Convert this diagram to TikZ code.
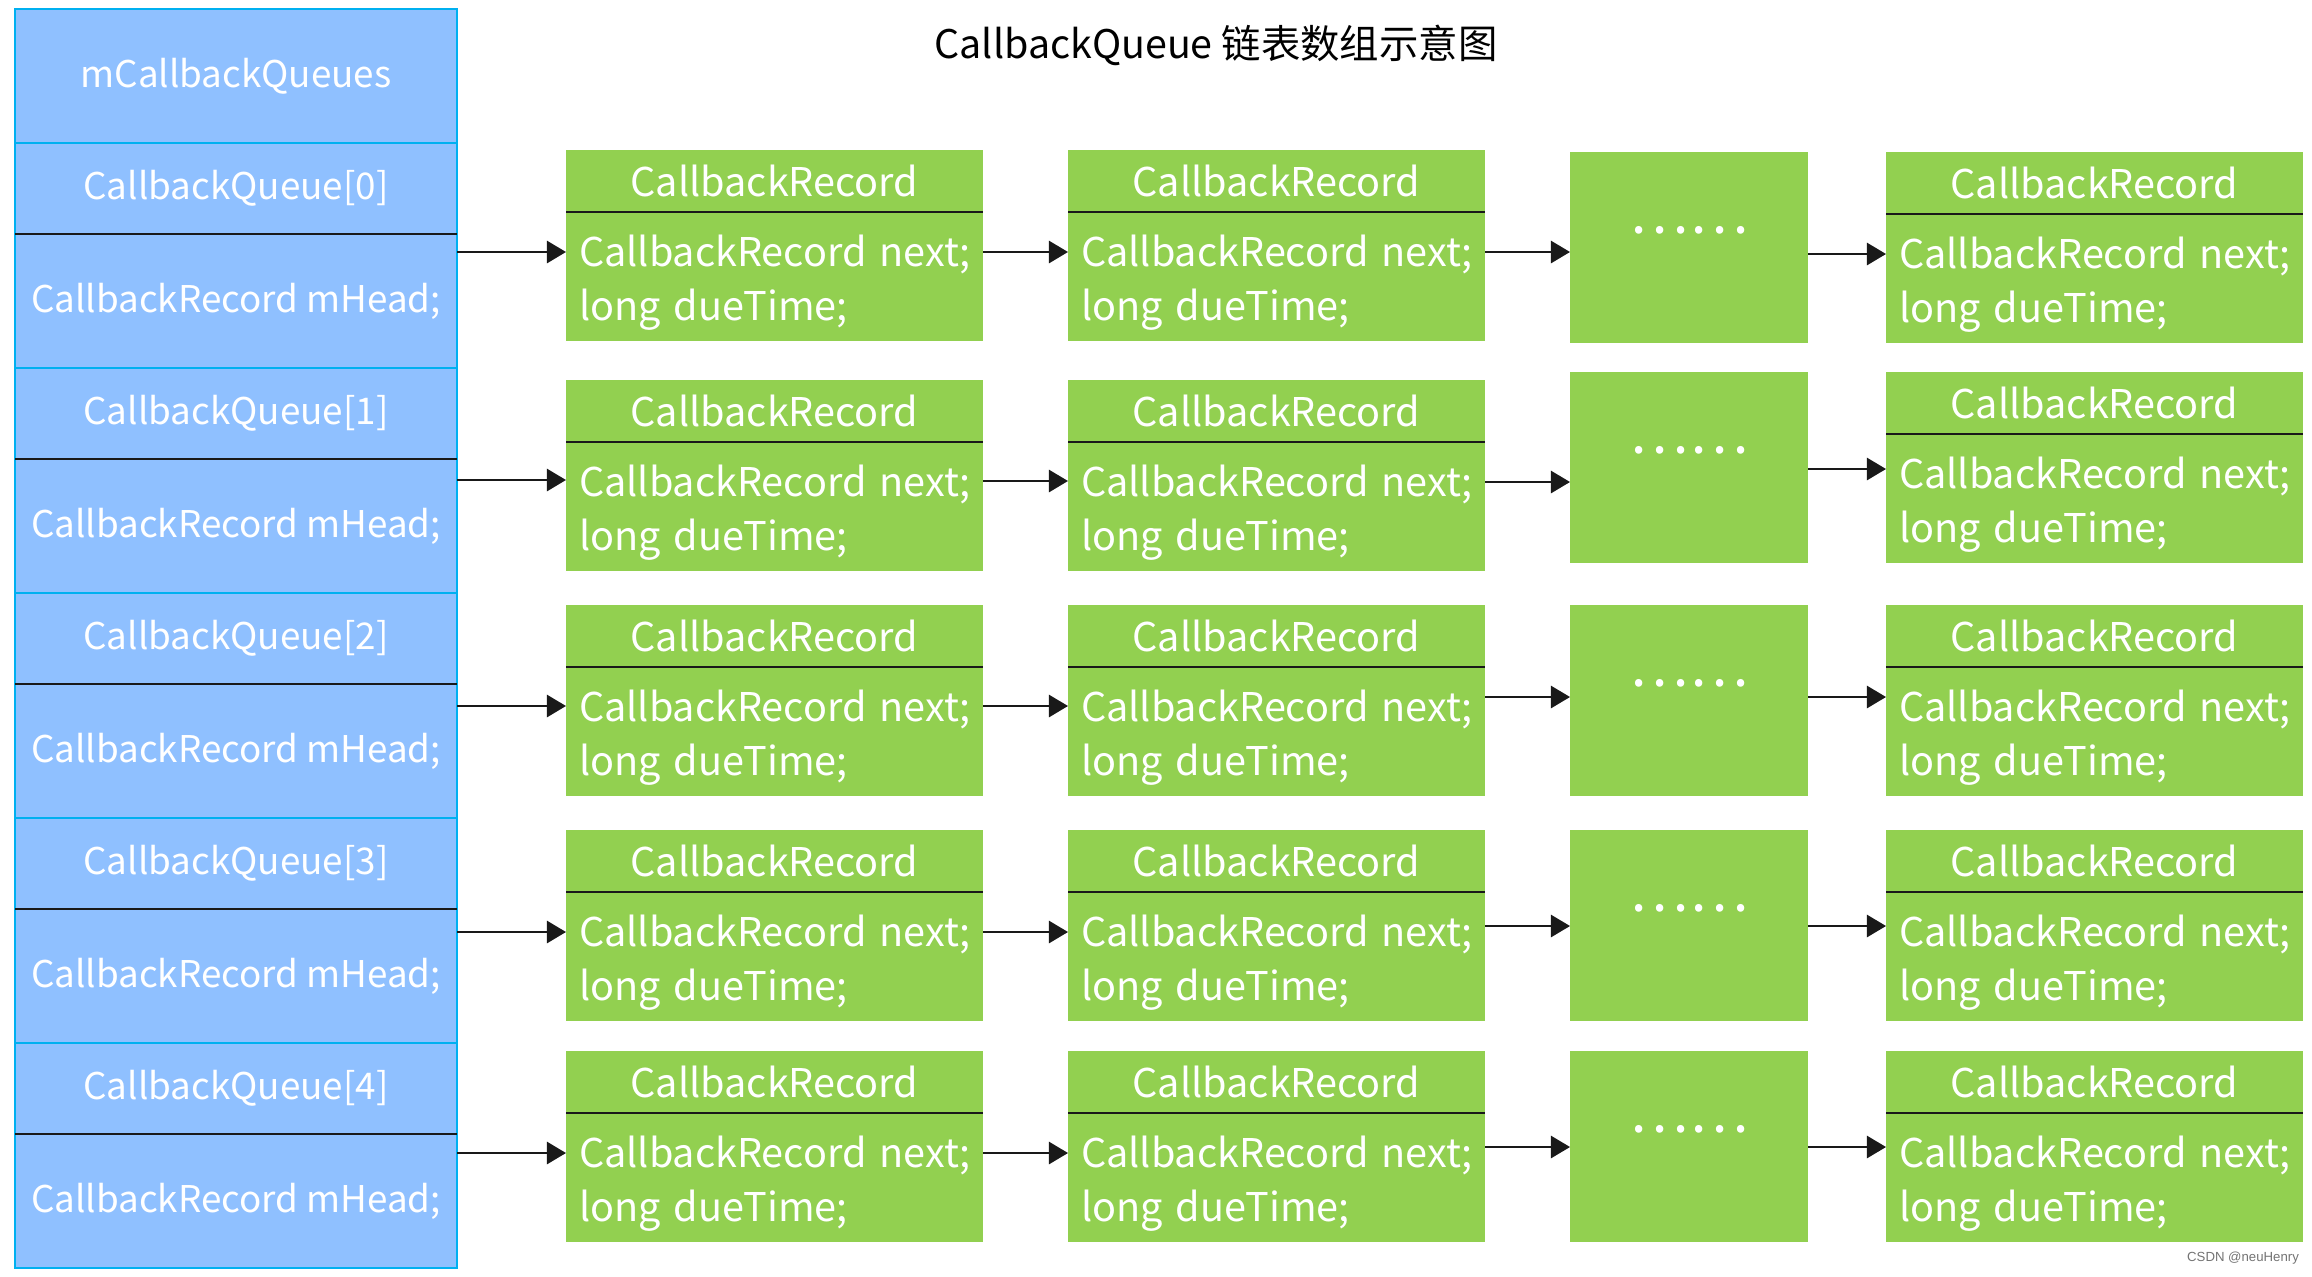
\documentclass[tikz,border=0pt]{standalone}
\usepackage{fontspec}
\setmainfont{Noto Sans CJK SC}
\newfontfamily\wmfont{Liberation Sans}
\usetikzlibrary{arrows.meta,calc}
\definecolor{qblue}{RGB}{143,192,255}
\definecolor{qcyan}{RGB}{0,176,240}
\definecolor{rgreen}{RGB}{146,208,80}
\newcommand\qfont{\fontsize{9.2}{11}\selectfont}
\newcommand\boxfont{\fontsize{9.9}{13.7}\selectfont}
\newcommand\titlefont{\fontsize{9.85}{12}\selectfont}
\newcommand\recbody{\rule{0pt}{11.5pt}\mbox{CallbackRecord next;}\\\mbox{long dueTime;}\rule[-3pt]{0pt}{3pt}}
\tikzset{
  cell/.style={rectangle, inner sep=0pt, outer sep=0pt, anchor=north west, text=white},
  wh/.style 2 args={minimum width=#1*0.25pt, minimum height=#2*0.25pt},
  qcell/.style={cell, fill=qblue, draw=qcyan, line width=0.6pt, font=\qfont},
  rhead/.style={cell, fill=rgreen, font=\boxfont},
  rbody/.style={cell, fill=rgreen, font=\boxfont, align=left,
    text width=391*0.25pt, inner xsep=13*0.25pt, minimum height=129*0.25pt},
  rdots/.style={cell, fill=rgreen},
  dotstext/.style={text=white, font=\fontsize{14}{14}\selectfont, inner sep=0pt},
  arr/.style={-{Triangle[length=4.8pt,width=5.6pt]}, line width=0.5pt, black!90},
  divider/.style={line width=0.7pt, black!90}
}
\begin{document}
\begin{tikzpicture}[x=0.25pt,y=-0.25pt]
\path[use as bounding box] (0,0) rectangle (2312,1276);
\node[font=\titlefont] (title) at (1216,45) {CallbackQueue 链表数组示意图};
\node[qcell, wh={442}{134}] (qtop) at (15,9) {mCallbackQueues};
\foreach \i/\ta/\tb/\ya/\yb/\yc/\yd in {0/150/152/252/252/252/254,
  1/380/372/480/481/482/469, 2/605/605/706/706/697/697,
  3/830/830/932/932/926/926, 4/1051/1051/1153/1153/1147/1147}{
  \pgfmathsetmacro\qt{143+225*\i}
  \node[qcell, wh={442}{91}] (qh\i) at (15,\qt) {CallbackQueue[\i]};
  \node[qcell, wh={442}{134}] (qm\i) at (15,{\qt+91}) {CallbackRecord mHead;};
  \draw[divider] (qh\i.south west) -- (qh\i.south east);
  % first record
  \node[rhead, wh={417}{62}] (ah\i) at (566,\ta) {CallbackRecord};
  \node[rbody] (ab\i) at (ah\i.south west) {\recbody};
  \draw[divider] (ah\i.south west) -- (ah\i.south east);
  % second record
  \node[rhead, wh={417}{62}] (bh\i) at (1068,\ta) {CallbackRecord};
  \node[rbody] (bb\i) at (bh\i.south west) {\recbody};
  \draw[divider] (bh\i.south west) -- (bh\i.south east);
  % dots
  \node[rdots, wh={238}{191}] (d\i) at (1570,\tb) {};
  \node[dotstext] (dt\i) at ($(d\i.north)+(0,78)$) {……};
  % last record
  \node[rhead, wh={417}{62}] (ch\i) at (1886,\tb) {CallbackRecord};
  \node[rbody] (cb\i) at (ch\i.south west) {\recbody};
  \draw[divider] (ch\i.south west) -- (ch\i.south east);
  % arrows
  \coordinate (ya\i) at (0,\ya);
  \coordinate (yb\i) at (0,\yb);
  \coordinate (yc\i) at (0,\yc);
  \coordinate (yd\i) at (0,\yd);
  \draw[arr] (qm\i.east |- ya\i) -- (ab\i.west |- ya\i);
  \draw[arr] (ab\i.east |- yb\i) -- (bb\i.west |- yb\i);
  \draw[arr] (bb\i.east |- yc\i) -- (d\i.west |- yc\i);
  \draw[arr] (d\i.east |- yd\i) -- (cb\i.west |- yd\i);
}
\node[text=black!55, font=\wmfont\fontsize{3.3}{4}\selectfont, inner sep=0pt] (wm) at (2243,1258) {CSDN @neuHenry};
\end{tikzpicture}
\end{document}
